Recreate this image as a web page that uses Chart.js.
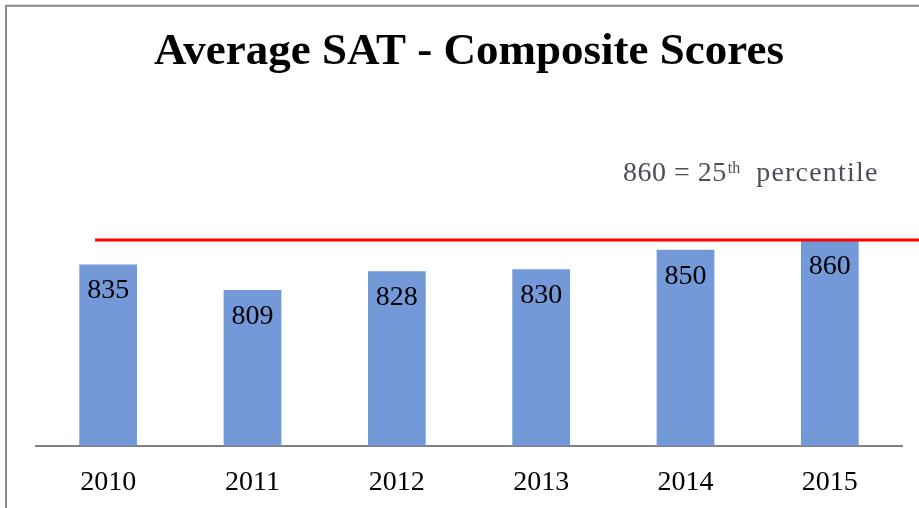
<!DOCTYPE html>
<html>
<head>
<meta charset="utf-8">
<script src="https://cdn.jsdelivr.net/npm/chart.js@4.4.1/dist/chart.umd.min.js"></script>
<style>
  html, body { margin: 0; padding: 0; background: #ffffff; }
  #wrap { width: 919px; height: 508px; position: relative; }
  canvas { display: block; }
</style>
</head>
<body>
<div id="wrap"><canvas id="c" width="919" height="508"></canvas></div>
<script>
// ---- data ----
const chartTitle = "Average SAT - Composite Scores";
const years = ["2010", "2011", "2012", "2013", "2014", "2015"];
const scores = [835, 809, 828, 830, 850, 860];
const threshold = 860;
const thresholdLabelMain = "860 = 25";
const thresholdLabelSup = "th";
const thresholdLabelTail = "percentile";

// ---- styles ----
const BAR_COLOR = "#7499D9";
const SERIF = "'Liberation Serif', 'Times New Roman', serif";

const framePlugin = {
  id: "frame",
  beforeDraw(chart) {
    const ctx = chart.ctx;
    ctx.save();
    ctx.fillStyle = "#ffffff";
    ctx.fillRect(0, 0, chart.width, chart.height);
    ctx.strokeStyle = "#8a8a8a";
    ctx.lineWidth = 2;
    ctx.beginPath();
    ctx.moveTo(6, chart.height);
    ctx.lineTo(6, 5.7);
    ctx.lineTo(chart.width, 5.7);
    ctx.stroke();
    ctx.restore();
  }
};

const overlayPlugin = {
  id: "overlay",
  afterDatasetsDraw(chart) {
    const ctx = chart.ctx;
    const yScale = chart.scales.y;
    ctx.save();
    // value labels inside bars
    ctx.font = "28px " + SERIF;
    ctx.fillStyle = "#000000";
    ctx.textAlign = "center";
    ctx.textBaseline = "alphabetic";
    const meta = chart.getDatasetMeta(0);
    meta.data.forEach((bar, i) => {
      ctx.fillText(String(scores[i]), bar.x, bar.y + 34);
    });
    // threshold line
    const ty = yScale.getPixelForValue(threshold);
    ctx.strokeStyle = "#FF0000";
    ctx.lineWidth = 3;
    ctx.beginPath();
    ctx.moveTo(95, ty);
    ctx.lineTo(chart.width, ty);
    ctx.stroke();
    // annotation
    ctx.fillStyle = "#4a4f57";
    ctx.textAlign = "left";
    let x = 623;
    const base = 181;
    ctx.font = "28px " + SERIF;
    ctx.letterSpacing = "0.5px";
    ctx.fillText(thresholdLabelMain, x, base);
    x += ctx.measureText(thresholdLabelMain).width + 1;
    ctx.font = "16px " + SERIF;
    ctx.letterSpacing = "0px";
    ctx.fillText(thresholdLabelSup, x, base - 8);
    x += ctx.measureText(thresholdLabelSup).width + 16;
    ctx.font = "28px " + SERIF;
    ctx.letterSpacing = "1.2px";
    ctx.fillText(thresholdLabelTail, x, base);
    ctx.restore();
  }
};

new Chart(document.getElementById("c"), {
  type: "bar",
  data: {
    labels: years,
    datasets: [{
      data: scores,
      backgroundColor: BAR_COLOR,
      borderWidth: 0,
      barPercentage: 1.0,
      categoryPercentage: 0.4
    }]
  },
  options: {
    responsive: false,
    animation: false,
    devicePixelRatio: 1,
    layout: { padding: { left: 36, right: 17, top: 0, bottom: 0 } },
    plugins: {
      legend: { display: false },
      tooltip: { enabled: false },
      title: {
        display: true,
        text: chartTitle,
        color: "#000000",
        font: { family: SERIF, size: 45, weight: "bold", lineHeight: 1.2 },
        padding: { top: 25.5, bottom: 23.2 }
      }
    },
    scales: {
      y: {
        display: false,
        min: 650,
        max: 1000
      },
      x: {
        grid: { display: false, drawTicks: false },
        border: { display: true, color: "#7f7f7f", width: 2 },
        ticks: {
          color: "#000000",
          font: { family: SERIF, size: 28 },
          padding: 20
        },
        afterFit(scale) { scale.height = 62.3; }
      }
    }
  },
  plugins: [framePlugin, overlayPlugin]
});
</script>
</body>
</html>
